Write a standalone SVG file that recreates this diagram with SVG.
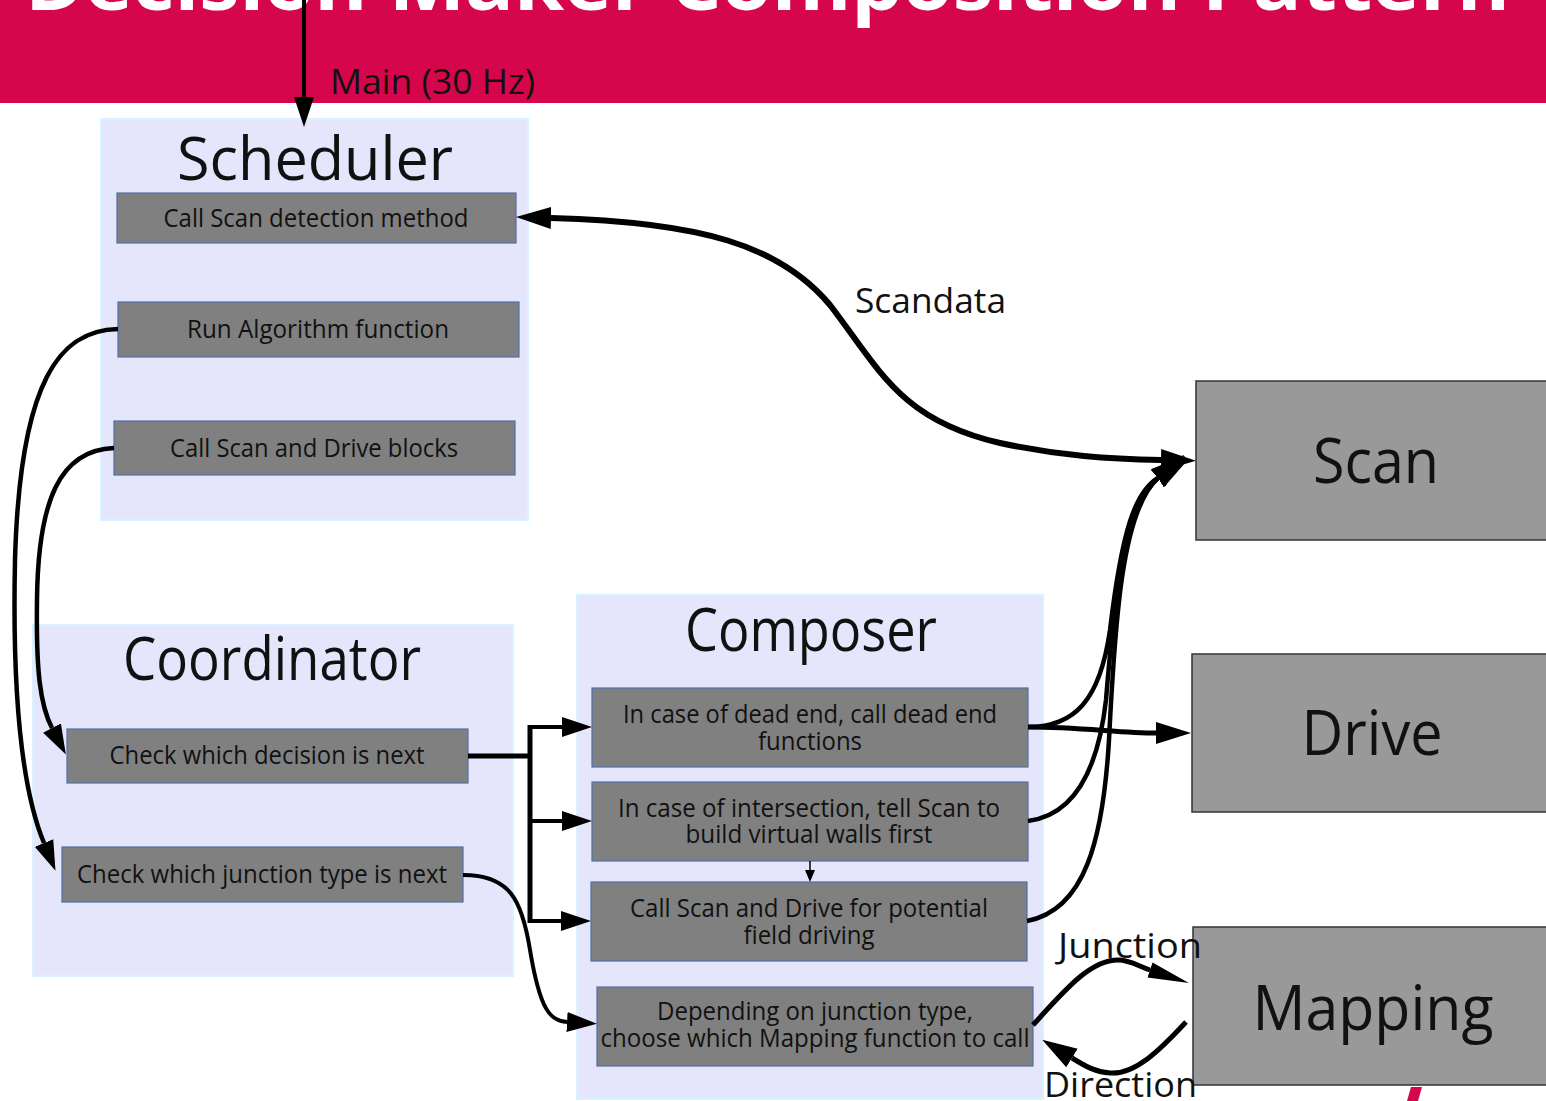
<svg xmlns="http://www.w3.org/2000/svg" width="1546" height="1101" viewBox="0 0 1546 1101">
  <style>
    .panel { fill: #e5e5fb; stroke: #d6f3ff; stroke-width: 2; }
    .step { fill: #808080; stroke: #4f70a8; stroke-width: 1.2; }
    .block { fill: #999999; stroke: #333333; stroke-width: 1.5; }
    text { font-family: "Open Sans", "Noto Sans", "DejaVu Sans", sans-serif; fill: #111111; }
    .step-text { font-size: 25px; text-anchor: middle; }
    .panel-title { font-size: 60px; text-anchor: middle; }
    .block-text { font-size: 62px; text-anchor: middle; }
    .label { font-size: 35px; }
    .wire { fill: none; stroke: #000000; stroke-linecap: butt; }
  </style>
  <defs>
    <marker id="ah-lg" markerUnits="userSpaceOnUse" markerWidth="36" markerHeight="24" refX="0" refY="12" orient="auto">
      <path d="M0,1 L35,12 L0,23 Z" fill="#000"/>
    </marker>
    <marker id="ah-lg-start" markerUnits="userSpaceOnUse" markerWidth="36" markerHeight="24" refX="0" refY="12" orient="auto-start-reverse">
      <path d="M0,1 L35,12 L0,23 Z" fill="#000"/>
    </marker>
    <marker id="ah-md" markerUnits="userSpaceOnUse" markerWidth="32" markerHeight="22" refX="0" refY="11" orient="auto">
      <path d="M0,1 L30,11 L0,21 Z" fill="#000"/>
    </marker>
    <marker id="ah-thin" markerUnits="userSpaceOnUse" markerWidth="42" markerHeight="20" refX="0" refY="10" orient="auto">
      <path d="M0,2 L41,10 L0,18 Z" fill="#000"/>
    </marker>
    <marker id="ah-sm" markerUnits="userSpaceOnUse" markerWidth="12" markerHeight="10" refX="0" refY="5" orient="auto">
      <path d="M0,0 L12,5 L0,10 Z" fill="#000"/>
    </marker>
  </defs>

  <!-- header band -->
  <g id="header">
    <rect x="0" y="0" width="1546" height="103" fill="#d5064b"/>
    <text x="25" y="10" font-size="76" font-weight="bold" textLength="1485" lengthAdjust="spacingAndGlyphs" style="fill:#ffffff">Decision Maker Composition Pattern</text>
    <polygon points="1411,1087 1422,1087 1418,1101 1407,1101" fill="#d5064b"/>
  </g>

  <!-- Scheduler -->
  <g id="scheduler">
    <rect class="panel" x="101" y="119" width="427" height="401"/>
    <text class="panel-title" x="315" y="180" font-size="62" textLength="276" lengthAdjust="spacingAndGlyphs">Scheduler</text>
  </g>
  <g id="call-scan-detection">
    <rect class="step" x="117" y="193" width="399" height="50"/>
    <text class="step-text" x="316" y="227" textLength="305" lengthAdjust="spacingAndGlyphs">Call Scan detection method</text>
  </g>
  <g id="run-algorithm">
    <rect class="step" x="118" y="302" width="401" height="55"/>
    <text class="step-text" x="318" y="338" textLength="262" lengthAdjust="spacingAndGlyphs">Run Algorithm function</text>
  </g>
  <g id="call-scan-drive-blocks">
    <rect class="step" x="114" y="421" width="401" height="54"/>
    <text class="step-text" x="314" y="457" textLength="288" lengthAdjust="spacingAndGlyphs">Call Scan and Drive blocks</text>
  </g>

  <!-- Coordinator -->
  <g id="coordinator">
    <rect class="panel" x="33" y="625" width="480" height="351"/>
    <text class="panel-title" x="272" y="680" font-size="54" textLength="298" lengthAdjust="spacingAndGlyphs">Coordinator</text>
  </g>
  <g id="check-decision">
    <rect class="step" x="67" y="729" width="401" height="54"/>
    <text class="step-text" x="267" y="764" textLength="315" lengthAdjust="spacingAndGlyphs">Check which decision is next</text>
  </g>
  <g id="check-junction">
    <rect class="step" x="62" y="847" width="401" height="55"/>
    <text class="step-text" x="262" y="883" textLength="370" lengthAdjust="spacingAndGlyphs">Check which junction type is next</text>
  </g>

  <!-- Composer -->
  <g id="composer">
    <rect class="panel" x="577" y="595" width="466" height="504"/>
    <text class="panel-title" x="811" y="651" font-size="55" textLength="252" lengthAdjust="spacingAndGlyphs">Composer</text>
  </g>
  <g id="dead-end">
    <rect class="step" x="592" y="688" width="436" height="79"/>
    <text class="step-text" x="810" y="723" textLength="374" lengthAdjust="spacingAndGlyphs">In case of dead end, call dead end</text>
    <text class="step-text" x="810" y="750" textLength="104" lengthAdjust="spacingAndGlyphs">functions</text>
  </g>
  <g id="intersection">
    <rect class="step" x="592" y="782" width="436" height="79"/>
    <text class="step-text" x="809" y="817" textLength="382" lengthAdjust="spacingAndGlyphs">In case of intersection, tell Scan to</text>
    <text class="step-text" x="809" y="843" textLength="247" lengthAdjust="spacingAndGlyphs">build virtual walls first</text>
  </g>
  <g id="potential-field">
    <rect class="step" x="591" y="882" width="436" height="79"/>
    <text class="step-text" x="809" y="917" textLength="358" lengthAdjust="spacingAndGlyphs">Call Scan and Drive for potential</text>
    <text class="step-text" x="809" y="944" textLength="131" lengthAdjust="spacingAndGlyphs">field driving</text>
  </g>
  <g id="junction-type">
    <rect class="step" x="597" y="987" width="436" height="79"/>
    <text class="step-text" x="815" y="1020" textLength="316" lengthAdjust="spacingAndGlyphs">Depending on junction type,</text>
    <text class="step-text" x="815" y="1047" textLength="429" lengthAdjust="spacingAndGlyphs">choose which Mapping function to call</text>
  </g>

  <!-- Blocks -->
  <g id="scan">
    <rect class="block" x="1196" y="381" width="370" height="159"/>
    <text class="block-text" x="1376" y="483" font-size="63" textLength="126" lengthAdjust="spacingAndGlyphs">Scan</text>
  </g>
  <g id="drive">
    <rect class="block" x="1192" y="654" width="370" height="158"/>
    <text class="block-text" x="1372" y="755" font-size="60" textLength="141" lengthAdjust="spacingAndGlyphs">Drive</text>
  </g>
  <g id="mapping">
    <rect class="block" x="1193" y="927" width="370" height="158"/>
    <text class="block-text" x="1373" y="1030" font-size="60" textLength="241" lengthAdjust="spacingAndGlyphs">Mapping</text>
  </g>

  <!-- Connectors -->
  <g id="connectors">
    <!-- main loop trigger -->
    <path class="wire" d="M304 -5 L304 97" stroke-width="4" marker-end="url(#ah-md)"/>
    <!-- scan data exchange -->
    <path class="wire" d="M551 218 C700 222, 780 245, 830 305 C880 370, 900 420, 1000 443 C1060 456, 1110 459, 1161 460" stroke-width="6" marker-start="url(#ah-lg-start)" marker-end="url(#ah-lg)"/>
    <!-- scheduler to coordinator -->
    <path class="wire" d="M118 329 C60 330, 20 380, 15 560 C12 700, 22 790, 44 843" stroke-width="4.5" marker-end="url(#ah-md)"/>
    <path class="wire" d="M114 448 C60 450, 38 500, 37 600 C36 670, 40 705, 52 728" stroke-width="4.5" marker-end="url(#ah-md)"/>
    <!-- decision bus -->
    <path class="wire" d="M468 756 L530 756" stroke-width="5"/>
    <path class="wire" d="M530 725 L530 923" stroke-width="5"/>
    <path class="wire" d="M528 727 L562 727" stroke-width="4" marker-end="url(#ah-md)"/>
    <path class="wire" d="M528 821 L562 821" stroke-width="4" marker-end="url(#ah-md)"/>
    <path class="wire" d="M528 921 L561 921" stroke-width="4" marker-end="url(#ah-md)"/>
    <!-- junction type to mapping choice -->
    <path class="wire" d="M463 875 C510 875, 522 900, 530 950 C540 1010, 550 1021, 567 1022" stroke-width="4" marker-end="url(#ah-md)"/>
    <!-- intersection then potential field -->
    <path class="wire" d="M810 861 L810 870" stroke-width="1.5" marker-end="url(#ah-sm)"/>
    <!-- composer to drive -->
    <path class="wire" d="M1028 727 C1080 727, 1120 733, 1156 733" stroke-width="5" marker-end="url(#ah-lg)"/>
    <!-- composer to scan -->
    <path class="wire" d="M1028 727 C1075 727, 1100 700, 1110 630 C1122 530, 1135 492, 1158 478" stroke-width="4.5" marker-end="url(#ah-lg)"/>
    <path class="wire" d="M1028 821 C1075 815, 1098 770, 1106 700 C1114 600, 1125 505, 1158 478" stroke-width="4.5" marker-end="url(#ah-lg)"/>
    <path class="wire" d="M1027 921 C1085 910, 1103 840, 1109 740 C1115 620, 1122 510, 1158 478" stroke-width="4.5" marker-end="url(#ah-lg)"/>
    <!-- mapping exchange -->
    <path class="wire" d="M1033 1025 C1065 990, 1090 960, 1118 960 C1130 960, 1138 966, 1150 970" stroke-width="5" marker-end="url(#ah-thin)"/>
    <path class="wire" d="M1186 1022 C1160 1050, 1135 1075, 1110 1073 C1095 1072, 1085 1066, 1072 1058" stroke-width="5" marker-end="url(#ah-lg)"/>
  </g>

  <!-- connector labels -->
  <g id="labels">
    <text class="label" x="330" y="94" font-size="36" textLength="205" lengthAdjust="spacingAndGlyphs">Main (30 Hz)</text>
    <text class="label" x="855" y="313" font-size="34" textLength="151" lengthAdjust="spacingAndGlyphs">Scandata</text>
    <text class="label" x="1058" y="958" font-size="35" textLength="144" lengthAdjust="spacingAndGlyphs">Junction</text>
    <text class="label" x="1044" y="1097" font-size="35" textLength="153" lengthAdjust="spacingAndGlyphs">Direction</text>
  </g>
</svg>
